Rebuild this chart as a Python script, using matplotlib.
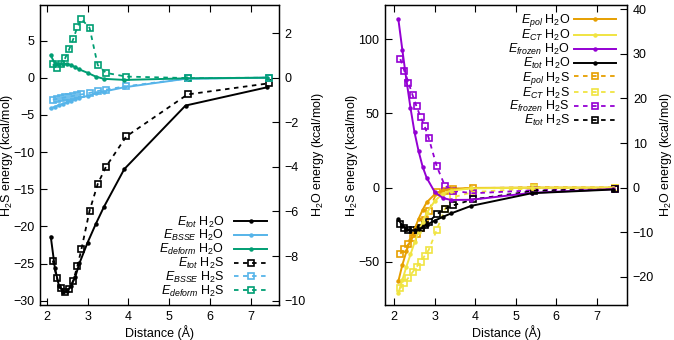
##############################################################################
# Energy decomposition vs distance for H2O and H2S.
# Left : total, BSSE and deformation energies.
# Right: polarisation, charge transfer, frozen and total energies.
# H2S on the left y axis, H2O on the right y axis.
##############################################################################

import numpy as np
import matplotlib
matplotlib.use( 'Agg' )
import matplotlib.pyplot as plt

# Data
# H2O scan (right axis, kcal/mol)
x_h2o       = [ 2.1 , 2.2 , 2.3 , 2.4 , 2.5 , 2.6 , 2.7 , 2.8 , 3.0 , 3.2 , 3.4 , 3.9 , 5.4 , 7.4 ]
etot_h2o    = [ -7.13 , -8.53 , -9.33 , -9.60 , -9.57 , -9.33 , -8.93 , -8.33 , -7.40 , -6.57 , -5.80 , -4.10 , -1.25 , -0.43 ]
ebsse_h2o   = [ -1.38 , -1.30 , -1.23 , -1.17 , -1.10 , -1.03 , -0.97 , -0.90 , -0.82 , -0.70 , -0.62 , -0.43 , -0.05 , 0.0 ]
edeform_h2o = [ 1.00 , 0.63 , 0.62 , 0.63 , 0.62 , 0.56 , 0.47 , 0.37 , 0.22 , 0.05 , -0.05 , -0.10 , -0.03 , 0.0 ]
epol_h2o    = [ -21.0 , -17.3 , -14.3 , -11.7 , -9.3 , -7.0 , -5.0 , -3.3 , -1.5 , -0.6 , -0.27 , -0.07 , 0.0 , 0.0 ]
ect_h2o     = [ -23.7 , -20.7 , -17.7 , -15.0 , -12.3 , -10.0 , -7.7 , -5.7 , -3.0 , -1.33 , -0.67 , -0.17 , 0.0 , 0.0 ]
efrozen_h2o = [ 37.8 , 30.8 , 24.1 , 17.9 , 12.4 , 8.2 , 4.7 , 2.2 , -1.0 , -2.33 , -2.77 , -2.73 , -1.17 , -0.33 ]

# H2S scan (left axis, kcal/mol)
x_h2s       = [ 2.15 , 2.25 , 2.35 , 2.45 , 2.55 , 2.65 , 2.75 , 2.85 , 3.05 , 3.25 , 3.45 , 3.95 , 5.45 , 7.45 ]
etot_h2s    = [ -24.6 , -27.0 , -28.3 , -28.8 , -28.4 , -27.3 , -25.4 , -23.1 , -17.9 , -14.3 , -12.0 , -7.9 , -2.25 , -0.75 ]
ebsse_h2s   = [ -2.95 , -2.85 , -2.75 , -2.65 , -2.55 , -2.45 , -2.35 , -2.25 , -2.05 , -1.8 , -1.6 , -1.15 , -0.1 , 0.0 ]
edeform_h2s = [ 1.8 , 1.26 , 1.9 , 2.6 , 3.8 , 5.2 , 6.8 , 7.9 , 6.7 , 1.7 , 0.65 , 0.15 , -0.05 , 0.0 ]
epol_h2s    = [ -44.5 , -41.4 , -38.0 , -33.7 , -30.9 , -27.0 , -22.0 , -16.0 , -3.2 , -2.2 , -0.9 , -0.4 , 0.3 , 0.0 ]
ect_h2s     = [ -67.7 , -64.0 , -60.6 , -57.0 , -53.3 , -50.0 , -45.9 , -42.0 , -28.4 , -14.4 , -6.5 , -3.0 , -0.5 , 0.0 ]
efrozen_h2s = [ 86.5 , 78.4 , 70.7 , 62.4 , 54.6 , 47.5 , 41.3 , 33.4 , 14.3 , 1.3 , -2.2 , -3.8 , -1.8 , -0.8 ]

# Colours (gnuplot default set)
c_black  = 'black'
c_blue   = '#56B4E9'
c_green  = '#009E73'
c_orange = '#E69F00'
c_yellow = '#F0E442'
c_purple = '#9400D3'

# Plot parameters
plt.rcParams[ 'font.family' ]      = [ 'Liberation Sans' , 'DejaVu Sans' ]
plt.rcParams[ 'font.size' ]        = 9
plt.rcParams[ 'mathtext.fontset' ] = 'custom'
plt.rcParams[ 'mathtext.rm' ]      = 'Liberation Sans'
plt.rcParams[ 'mathtext.it' ]      = 'Liberation Sans:italic'
plt.rcParams[ 'axes.linewidth' ]   = 0.9

fig = plt.figure( figsize = ( 6.74 , 3.40 ) , dpi = 100 )

def solid( ax , x , y , color , label ) :
    #H2O curves: solid line, small dots
    return ax.plot( x , y , '-' , color = color , lw = 1.4 , marker = 'o' , markersize = 2.2 , label = label )[ 0 ]

def dashed( ax , x , y , color , label ) :
    #H2S curves: dashed line, open squares
    return ax.plot( x , y , '--' , color = color , lw = 1.3 , dashes = ( 2.5 , 2.5 ) , marker = 's' , markersize = 4.6 ,
                    markerfacecolor = 'none' , markeredgewidth = 1.2 , label = label )[ 0 ]

def setup( ax , ax2 , xlim , ylim , yticks , yticks2 ) :
    ax.set_xlim( xlim )
    ax.set_ylim( ylim )
    ax2.set_ylim( ylim[ 0 ] / 3.0 , ylim[ 1 ] / 3.0 )
    ax.set_xticks( [ 2 , 3 , 4 , 5 , 6 , 7 ] )
    ax.set_yticks( yticks )
    ax2.set_yticks( yticks2 )
    ax.tick_params( direction = 'in' , length = 5 , top = True , right = False , pad = 4 )
    ax2.tick_params( direction = 'in' , length = 5 , pad = 4 )
    ax.set_xlabel( 'Distance (Å)' , labelpad = 2 )
    ax.set_ylabel( 'H$_2$S energy (kcal/mol)' , labelpad = -1.5 )
    ax2.set_ylabel( 'H$_2$O energy (kcal/mol)' , labelpad = 3 )

# Left panel
ax1 = fig.add_axes( [ 40 / 674 , 35 / 340 , 239 / 674 , 300 / 340 ] )
ax1b = ax1.twinx()
h = []
h.append( solid( ax1b , x_h2o , etot_h2o , c_black , r'$E_{tot}$ H$_2$O' ) )
h.append( solid( ax1b , x_h2o , ebsse_h2o , c_blue , r'$E_{BSSE}$ H$_2$O' ) )
h.append( solid( ax1b , x_h2o , edeform_h2o , c_green , r'$E_{deform}$ H$_2$O' ) )
h.append( dashed( ax1 , x_h2s , etot_h2s , c_black , r'$E_{tot}$ H$_2$S' ) )
h.append( dashed( ax1 , x_h2s , ebsse_h2s , c_blue , r'$E_{BSSE}$ H$_2$S' ) )
h.append( dashed( ax1 , x_h2s , edeform_h2s , c_green , r'$E_{deform}$ H$_2$S' ) )
setup( ax1 , ax1b , ( 1.836 , 7.69 ) , ( -30.58 , 9.78 ) , np.arange( -30 , 6 , 5 ) , np.arange( -10 , 3 , 2 ) )
ax1b.legend( handles = h , loc = 'lower right' , bbox_to_anchor = ( 0.975 , 0.0 ) , frameon = False , markerfirst = False ,
             handlelength = 2.6 , handletextpad = 0.8 , labelspacing = -0.1 , borderaxespad = 0.1 )

# Right panel
ax2 = fig.add_axes( [ 385 / 674 , 35 / 340 , 242.3 / 674 , 300 / 340 ] )
ax2b = ax2.twinx()
h = []
h.append( solid( ax2b , x_h2o , epol_h2o , c_orange , r'$E_{pol}$ H$_2$O' ) )
h.append( solid( ax2b , x_h2o , ect_h2o , c_yellow , r'$E_{CT}$ H$_2$O' ) )
h.append( solid( ax2b , x_h2o , efrozen_h2o , c_purple , r'$E_{frozen}$ H$_2$O' ) )
h.append( solid( ax2b , x_h2o , etot_h2o , c_black , r'$E_{tot}$ H$_2$O' ) )
h.append( dashed( ax2 , x_h2s , epol_h2s , c_orange , r'$E_{pol}$ H$_2$S' ) )
h.append( dashed( ax2 , x_h2s , ect_h2s , c_yellow , r'$E_{CT}$ H$_2$S' ) )
h.append( dashed( ax2 , x_h2s , efrozen_h2s , c_purple , r'$E_{frozen}$ H$_2$S' ) )
h.append( dashed( ax2 , x_h2s , etot_h2s , c_black , r'$E_{tot}$ H$_2$S' ) )
setup( ax2 , ax2b , ( 1.77 , 7.76 ) , ( -79.0 , 122.9 ) , [ -50 , 0 , 50 , 100 ] , np.arange( -20 , 41 , 10 ) )
ax2b.legend( handles = h , loc = 'upper right' , bbox_to_anchor = ( 0.985 , 1.0 ) , frameon = False , markerfirst = False ,
             handlelength = 3.4 , handletextpad = 0.3 , labelspacing = -0.1 , borderaxespad = 0.2 )

plt.savefig( 'out.png' , dpi = 100 )
